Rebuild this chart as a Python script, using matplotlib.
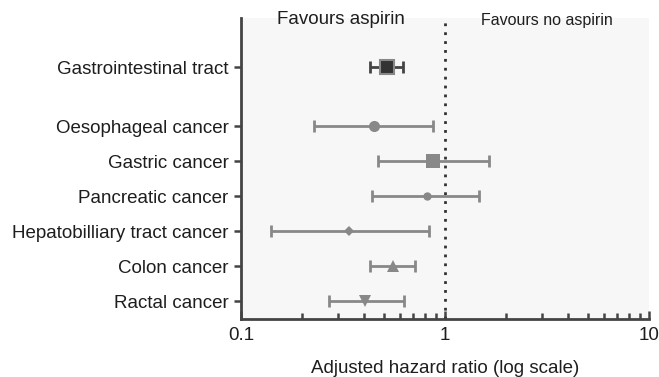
import matplotlib
matplotlib.use("Agg")
import matplotlib.pyplot as plt
from matplotlib.ticker import LogLocator, NullFormatter, FixedLocator

plt.rcParams["font.family"] = ["Liberation Sans", "DejaVu Sans"]

labels = ["Gastrointestinal tract", "Oesophageal cancer", "Gastric cancer",
          "Pancreatic cancer", "Hepatobilliary tract cancer", "Colon cancer",
          "Ractal cancer"]
rows = [6.69, 5.0, 4.0, 3.0, 2.0, 1.0, 0.0]
hr = [0.517, 0.448, 0.87, 0.813, 0.339, 0.557, 0.406]
ci_low = [0.428, 0.227, 0.467, 0.441, 0.140, 0.428, 0.270]
ci_high = [0.621, 0.873, 1.645, 1.47, 0.837, 0.715, 0.631]

markers = ["s", "o", "s", "o", "D", "^", "v"]
sizes = [10, 8, 10, 6, 5, 8, 8]
face = ["#333333"] + ["#888888"] * 6
line_col = ["#444444"] + ["#888888"] * 6

fig = plt.figure(figsize=(6.59, 3.77), dpi=100)
ax = fig.add_axes([241 / 659, 1 - 319 / 377, 408 / 659, 301 / 377])
ax.set_facecolor("#f7f7f7")

for y, m, lo, hi, mk, s, fc, lc in zip(rows, hr, ci_low, ci_high, markers, sizes, face, line_col):
    ax.errorbar(m, y, xerr=[[m - lo], [hi - m]], fmt="none", ecolor=lc,
                elinewidth=2, capsize=4, capthick=2, zorder=3)
    edge = "#888888" if fc == "#333333" else fc
    ax.plot(m, y, marker=mk, ms=s, mfc=fc, mec=edge,
            mew=1.5 if fc == "#333333" else 0, ls="none", zorder=4)

ax.axvline(1, color="#333333", ls=(0, (1, 2.2)), lw=2, zorder=2)

ax.set_xscale("log")
ax.set_xlim(0.1, 10)
ax.set_ylim(-0.51, 8.09)
ax.xaxis.set_major_locator(FixedLocator([0.1, 1, 10]))
ax.set_xticklabels(["0.1", "1", "10"])
ax.xaxis.set_minor_locator(LogLocator(base=10, subs=range(2, 10)))
ax.xaxis.set_minor_formatter(NullFormatter())
ax.tick_params(axis="x", which="both", direction="in", colors="#444444", labelcolor="#1e1e1e",
               labelsize=13.5, pad=6)
ax.tick_params(axis="x", which="major", length=6, width=1.8)
ax.tick_params(axis="x", which="minor", length=4, width=1.8)
ax.set_yticks(rows)
ax.set_yticklabels(labels)
ax.tick_params(axis="y", direction="out", length=5, width=1.8, colors="#444444",
               labelcolor="#1e1e1e", labelsize=13.5, pad=4)

for side in ("top", "right"):
    ax.spines[side].set_visible(False)
for side in ("left", "bottom"):
    ax.spines[side].set_color("#444444")
    ax.spines[side].set_linewidth(2)

ax.set_xlabel("Adjusted hazard ratio (log scale)", fontsize=13.5, color="#1e1e1e", labelpad=11)

fig.text(341 / 659, 1 - 19 / 377, "Favours aspirin", ha="center", va="center",
         fontsize=13.5, color="#1e1e1e")
fig.text(547 / 659, 1 - 20 / 377, "Favours no aspirin", ha="center", va="center",
         fontsize=11.5, color="#1e1e1e")

fig.savefig("out.png", dpi=100)
